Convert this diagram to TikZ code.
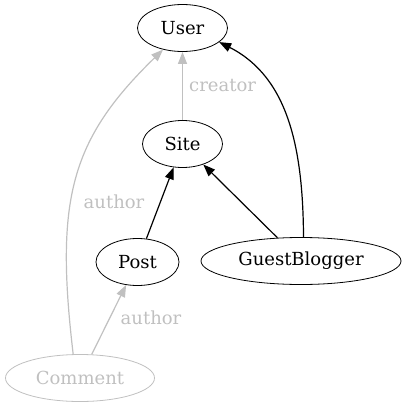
\documentclass[tikz,border=0pt]{standalone}
\usepackage{fontspec}
\setmainfont{DejaVu Serif}
\usepackage{tikz}
\usetikzlibrary{arrows.meta,shapes.geometric}
\definecolor{faded}{RGB}{192,192,192}
\tikzset{
  entity/.style={draw, ellipse, thick, inner sep=0pt, minimum height=47pt, font=\fontsize{18}{20}\selectfont},
  ghost/.style={entity, draw=faded, text=faded},
  link/.style={-{Triangle[length=12pt,width=9pt]}, line width=1.2pt},
  weaklink/.style={link, color=faded},
  role/.style={text=faded, inner sep=0pt, font=\fontsize{18}{20}\selectfont},
}

\begin{document}
\begin{tikzpicture}[x=1pt,y=-1pt]
  \useasboundingbox (0,0) rectangle (406,407);
  % Classes
  \node[entity, minimum width=90pt] (user) at (182.5,28) {User};
  \node[entity, minimum width=80pt] (site) at (182.5,144) {Site};
  \node[entity, minimum width=83pt] (post) at (137.5,262) {Post};
  \node[entity, minimum width=200pt] (guest) at (301,261) {GuestBlogger};
  \node[ghost, minimum width=149pt] (comment) at (80,378) {Comment};
  % Associations
  \draw[weaklink] (site) -- (user);
  \draw[link] (post) -- (site);
  \draw[link] (guest) -- (site);
  \draw[link] (guest.84) .. controls (303,150) and (289,77.5) .. (user.-21);
  \draw[weaklink] (comment.106) .. controls (55,200) and (70,140) .. (user.-132);
  \draw[weaklink] (comment) -- (post);
  % Roles
  \node[role, anchor=west] (creatorlbl) at (189,86) {creator};
  \node[role] (authorup) at (114,202) {author};
  \node[role] (authordown) at (151,318) {author};
\end{tikzpicture}
\end{document}
